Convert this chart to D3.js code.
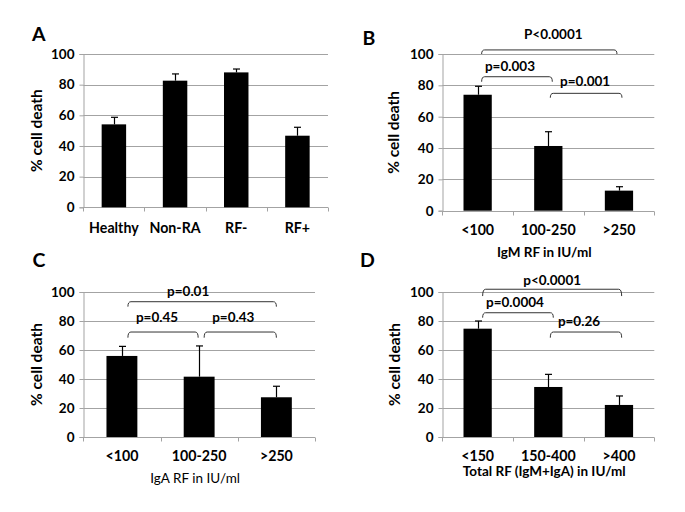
<!DOCTYPE html>
<html><head><meta charset="utf-8">
<script src="https://cdn.jsdelivr.net/npm/d3@7"></script>
<style>
html,body{margin:0;padding:0;background:#fff;}
svg{display:block;}
text{font-family:Lato,"Open Sans",sans-serif;fill:#000;}
</style></head>
<body>
<svg id="chart" width="685" height="512"></svg>
<script>
// ---------- data ----------
const yTicks = [0, 20, 40, 60, 80, 100];

const catsA = ["Healthy", "Non-RA", "RF-", "RF+"];
const valsA = [54.1, 82.6, 88.0, 46.7];
const errA  = [4.6, 4.4, 2.2, 5.5];

const catsB = ["<100", "100-250", ">250"];
const valsB = [74.0, 41.3, 12.8];
const errB  = [5.4, 9.1, 2.5];
const bracketsB = [
  {from: 0, to: 2, label: "P<0.0001"},
  {from: 0, to: 1, label: "p=0.003"},
  {from: 1, to: 2, label: "p=0.001"}
];

const catsC = ["<100", "100-250", ">250"];
const valsC = [55.9, 41.6, 27.4];
const errC  = [6.6, 21.2, 7.6];
const bracketsC = [
  {from: 0, to: 2, label: "p=0.01"},
  {from: 0, to: 1, label: "p=0.45"},
  {from: 1, to: 2, label: "p=0.43"}
];

const catsD = ["<150", "150-400", ">400"];
const valsD = [74.7, 34.5, 22.1];
const errD  = [5.3, 8.7, 6.2];
const bracketsD = [
  {from: 0, to: 2, label: "p<0.0001"},
  {from: 0, to: 1, label: "p=0.0004"},
  {from: 1, to: 2, label: "p=0.26"}
];

// ---------- layout (positions / styles) ----------
const panels = [
  {letter: "A", cats: catsA, vals: valsA, errs: errA, brackets: [],
   left: 83.3, right: 328, top: 54, bottom: 207.3, letterX: 32, letterY: 41,
   ylabX: 36.7, xlabY: 228, title: null},
  {letter: "B", cats: catsB, vals: valsB, errs: errB, brackets: bracketsB,
   left: 442.3, right: 654.3, top: 54, bottom: 210.7, letterX: 362.5, letterY: 45,
   ylabX: 393.3, xlabY: 230, title: "IgM RF in IU/ml", titleY: 252, titleW: "bold",
   bLayout: [
     {top: 102.6, end: 100, dx1: 4, dx2: -2, tY: 112.7, tdx: 4},
     {top: 85.5, end: 82.3, dx1: 4, dx2: 4, tY: 92, tdx: -7},
     {top: 74.9, end: 72.1, dx1: 2, dx2: 3, tY: 82.8, tdx: -1}
   ]},
  {letter: "C", cats: catsC, vals: valsC, errs: errC, brackets: bracketsC,
   left: 83.3, right: 315, top: 292, bottom: 437, letterX: 32.5, letterY: 266.5,
   ylabX: 36.7, xlabY: 456, title: "IgA RF in IU/ml", titleY: 478, titleW: "normal",
   bLayout: [
     {top: 93.3, end: 89.9, dx1: 6, dx2: 0, tY: 100.7, tdx: -14},
     {top: 72.4, end: 68.5, dx1: 6, dx2: -1, tY: 82.8, tdx: -6},
     {top: 72.4, end: 68.5, dx1: 5, dx2: 0, tY: 82.8, tdx: -7}
   ]},
  {letter: "D", cats: catsD, vals: valsD, errs: errD, brackets: bracketsD,
   left: 442.3, right: 654.3, top: 292, bottom: 437, letterX: 360, letterY: 266.5,
   ylabX: 395, xlabY: 456, title: "Total RF (IgM+IgA) in IU/ml", titleY: 471, titleW: "bold",
   bLayout: [
     {top: 101.9, end: 97.2, dx1: 5, dx2: 2.7, tY: 108, tdx: 0},
     {top: 85.7, end: 82.3, dx1: 5, dx2: 5, tY: 92.6, tdx: -3},
     {top: 72.4, end: 68.5, dx1: 2, dx2: 2.7, tY: 79.5, tdx: -7}
   ]}
];

const gridColor = "#a3a3a3";
const svg = d3.select("#chart");

panels.forEach(p => {
  const g = svg.append("g");
  const x = d3.scaleBand().domain(p.cats).range([p.left, p.right])
    .paddingInner(0.6).paddingOuter(0.3);
  const y = d3.scaleLinear().domain([0, 100]).range([p.bottom, p.top]);
  const n = p.cats.length;
  const step = (p.right - p.left) / n;

  // gridlines
  g.selectAll(".grid").data(yTicks.filter(t => t > 0)).enter().append("line")
    .attr("x1", p.left).attr("x2", p.right)
    .attr("y1", d => Math.round(y(d)) + 0.5).attr("y2", d => Math.round(y(d)) + 0.5)
    .attr("stroke", gridColor).attr("stroke-width", 1);

  // y axis
  const yAxis = d3.axisLeft(y).tickValues(yTicks).tickSize(4).tickPadding(5);
  const ya = g.append("g").attr("transform", `translate(${Math.round(p.left) + 0.5},0)`).call(yAxis);
  ya.select(".domain").attr("stroke", gridColor);
  ya.selectAll(".tick line").attr("stroke", gridColor);
  ya.selectAll(".tick text").attr("font-family", "Lato").attr("font-weight", "bold")
    .attr("font-size", 13.5).attr("fill", "#000");

  // x axis line + boundary ticks
  const yb = Math.round(p.bottom) + 0.5;
  g.append("line").attr("x1", p.left).attr("x2", p.right).attr("y1", yb).attr("y2", yb)
    .attr("stroke", gridColor);
  g.selectAll(".xt").data(d3.range(n + 1)).enter().append("line")
    .attr("x1", i => Math.round(p.left + i * step) + 0.5)
    .attr("x2", i => Math.round(p.left + i * step) + 0.5)
    .attr("y1", yb).attr("y2", yb + 4).attr("stroke", gridColor);

  // category labels
  g.selectAll(".xl").data(p.cats).enter().append("text")
    .attr("x", d => x(d) + x.bandwidth() / 2).attr("y", p.xlabY)
    .attr("dy", "0.35em").attr("text-anchor", "middle")
    .attr("font-weight", "bold").attr("font-size", 14.2).text(d => d);

  // bars
  g.selectAll(".bar").data(p.vals).enter().append("rect")
    .attr("x", (d, i) => x(p.cats[i])).attr("width", x.bandwidth())
    .attr("y", d => y(d)).attr("height", d => y(0) - y(d)).attr("fill", "#000");

  // error bars (upper)
  p.vals.forEach((v, i) => {
    const cx = Math.round(x(p.cats[i]) + x.bandwidth() / 2) + 0.5;
    const ty = y(v + p.errs[i]);
    g.append("line").attr("x1", cx).attr("x2", cx).attr("y1", y(v)).attr("y2", ty)
      .attr("stroke", "#000").attr("stroke-width", 1.2);
    g.append("line").attr("x1", cx - 3.5).attr("x2", cx + 3.5).attr("y1", ty).attr("y2", ty)
      .attr("stroke", "#000").attr("stroke-width", 1.2);
  });

  // y label
  g.append("text").attr("transform", `translate(${p.ylabX},${(p.top + p.bottom) / 2}) rotate(-90)`)
    .attr("text-anchor", "middle").attr("dy", "0.35em")
    .attr("font-weight", "bold").attr("font-size", 15.5).text("% cell death");

  // panel letter
  g.append("text").attr("x", p.letterX).attr("y", p.letterY)
    .attr("font-family", "'Open Sans'").attr("font-weight", "bold").attr("font-size", 19.5).text(p.letter);

  // x title
  if (p.title) {
    g.append("text").attr("x", (p.left + p.right) / 2 - 4).attr("y", p.titleY)
      .attr("dy", "0.35em").attr("text-anchor", "middle")
      .attr("font-weight", p.titleW).attr("font-size", 13.5).attr("fill", "#222").text(p.title);
  }

  // significance brackets
  p.brackets.forEach((b, k) => {
    const L = p.bLayout[k];
    const cx1 = x(p.cats[b.from]) + x.bandwidth() / 2 + L.dx1;
    const cx2 = x(p.cats[b.to]) + x.bandwidth() / 2 + L.dx2;
    const yt = y(L.top), ye = y(L.end);
    const r = 3;
    const path = `M${cx1},${ye} Q${cx1},${yt} ${cx1 + r},${yt} L${cx2 - r},${yt} Q${cx2},${yt} ${cx2},${ye}`;
    g.append("path").attr("d", path).attr("fill", "none").attr("stroke", "#333").attr("stroke-width", 1);
    g.append("text").attr("x", (cx1 + cx2) / 2 + L.tdx).attr("y", y(L.tY)).attr("dy", "0.35em")
      .attr("text-anchor", "middle").attr("font-weight", "bold").attr("font-size", 13.5).text(b.label);
  });
});
</script>
</body></html>
